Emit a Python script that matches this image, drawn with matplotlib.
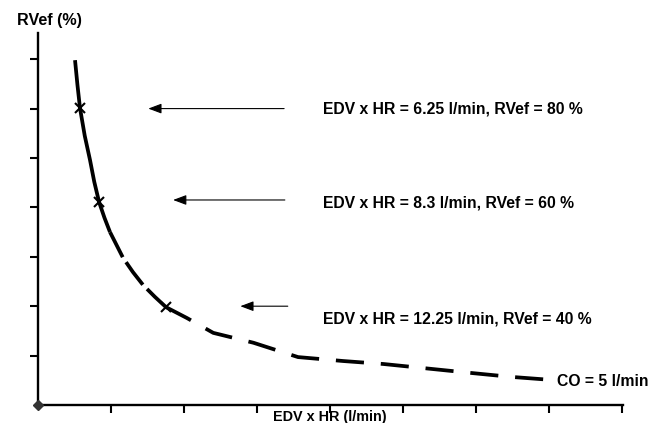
import matplotlib.pyplot as plt

plt.rcParams["font.family"] = ["Liberation Sans", "DejaVu Sans"]

# curve (EDV x HR in tick units, RVef in tick units)
solid_x = [0.507, 0.54, 0.575, 0.64, 0.712, 0.77, 0.836, 0.91, 0.986]
solid_y = [6.98, 6.48, 6.01, 5.45, 4.96, 4.52, 4.11, 3.79, 3.50]
steep_x = [0.986, 1.164, 1.30, 1.438, 1.60, 1.753]
steep_y = [3.50, 2.98, 2.69, 2.43, 2.19, 1.98]
flat_x = [1.753, 2.04, 2.40, 2.95, 3.56, 4.18, 4.73, 5.92, 6.47, 7.01]
flat_y = [1.98, 1.76, 1.46, 1.26, 0.97, 0.89, 0.83, 0.65, 0.57, 0.51]

# marked points
mark_x = [0.575, 0.836, 1.753]
mark_y = [6.01, 4.11, 1.98]

labels = ["EDV x HR = 6.25 l/min, RVef = 80 %",
          "EDV x HR = 8.3 l/min, RVef = 60 %",
          "EDV x HR = 12.25 l/min, RVef = 40 %"]
arrow_head = [1.51, 1.85, 2.77]
arrow_tail = [3.37, 3.38, 3.42]
arrow_y = [6.0, 4.15, 2.0]
label_y = [6.0, 4.09, 1.74]

fig = plt.figure(figsize=(6.61, 4.23), dpi=100)
ax = fig.add_axes([38 / 661, 18 / 423, 585 / 661, 372 / 423])
ax.set_xlim(0, 8.01)
ax.set_ylim(0, 7.53)

ax.plot(solid_x, solid_y, color="black", lw=2.7, solid_capstyle="butt")
ax.plot(steep_x, steep_y, color="black", lw=2.7, dashes=(7.5, 1.6))
ax.plot(flat_x, flat_y, color="black", lw=2.7, dashes=(7.5, 4.5))
ax.plot(mark_x, mark_y, "x", color="black", ms=7, mew=1.5)
ax.plot([0], [0], "D", color="#333333", ms=5, clip_on=False, zorder=5)

for lab, hx, tx, ay, ly in zip(labels, arrow_head, arrow_tail, arrow_y, label_y):
    ax.annotate("", xy=(hx, ay), xytext=(tx, ay),
                arrowprops=dict(arrowstyle="-|>,head_length=0.8,head_width=0.3",
                                color="black", lw=0.8, shrinkA=0, shrinkB=0))
    ax.text(3.90, ly, lab, fontsize=11.3, fontweight="bold", va="center", ha="left")

ax.text(7.10, 0.47, "CO = 5 l/min", fontsize=11.3, fontweight="bold", va="center", ha="left")

for s in ["top", "right"]:
    ax.spines[s].set_visible(False)
for s in ["left", "bottom"]:
    ax.spines[s].set_linewidth(1.7)

ax.set_xticks(range(1, 9))
ax.set_yticks(range(1, 8))
ax.set_xticklabels([])
ax.set_yticklabels([])
ax.tick_params(direction="out", length=6, width=1.5)

fig.text(17 / 661, 1 - 21 / 423, "RVef (%)", fontsize=11.6, fontweight="bold", va="center", ha="left")
fig.text(330 / 661, 1 - 417 / 423, "EDV x HR (l/min)", fontsize=10.4, fontweight="bold", va="center", ha="center")

fig.savefig("out.png", dpi=100)
